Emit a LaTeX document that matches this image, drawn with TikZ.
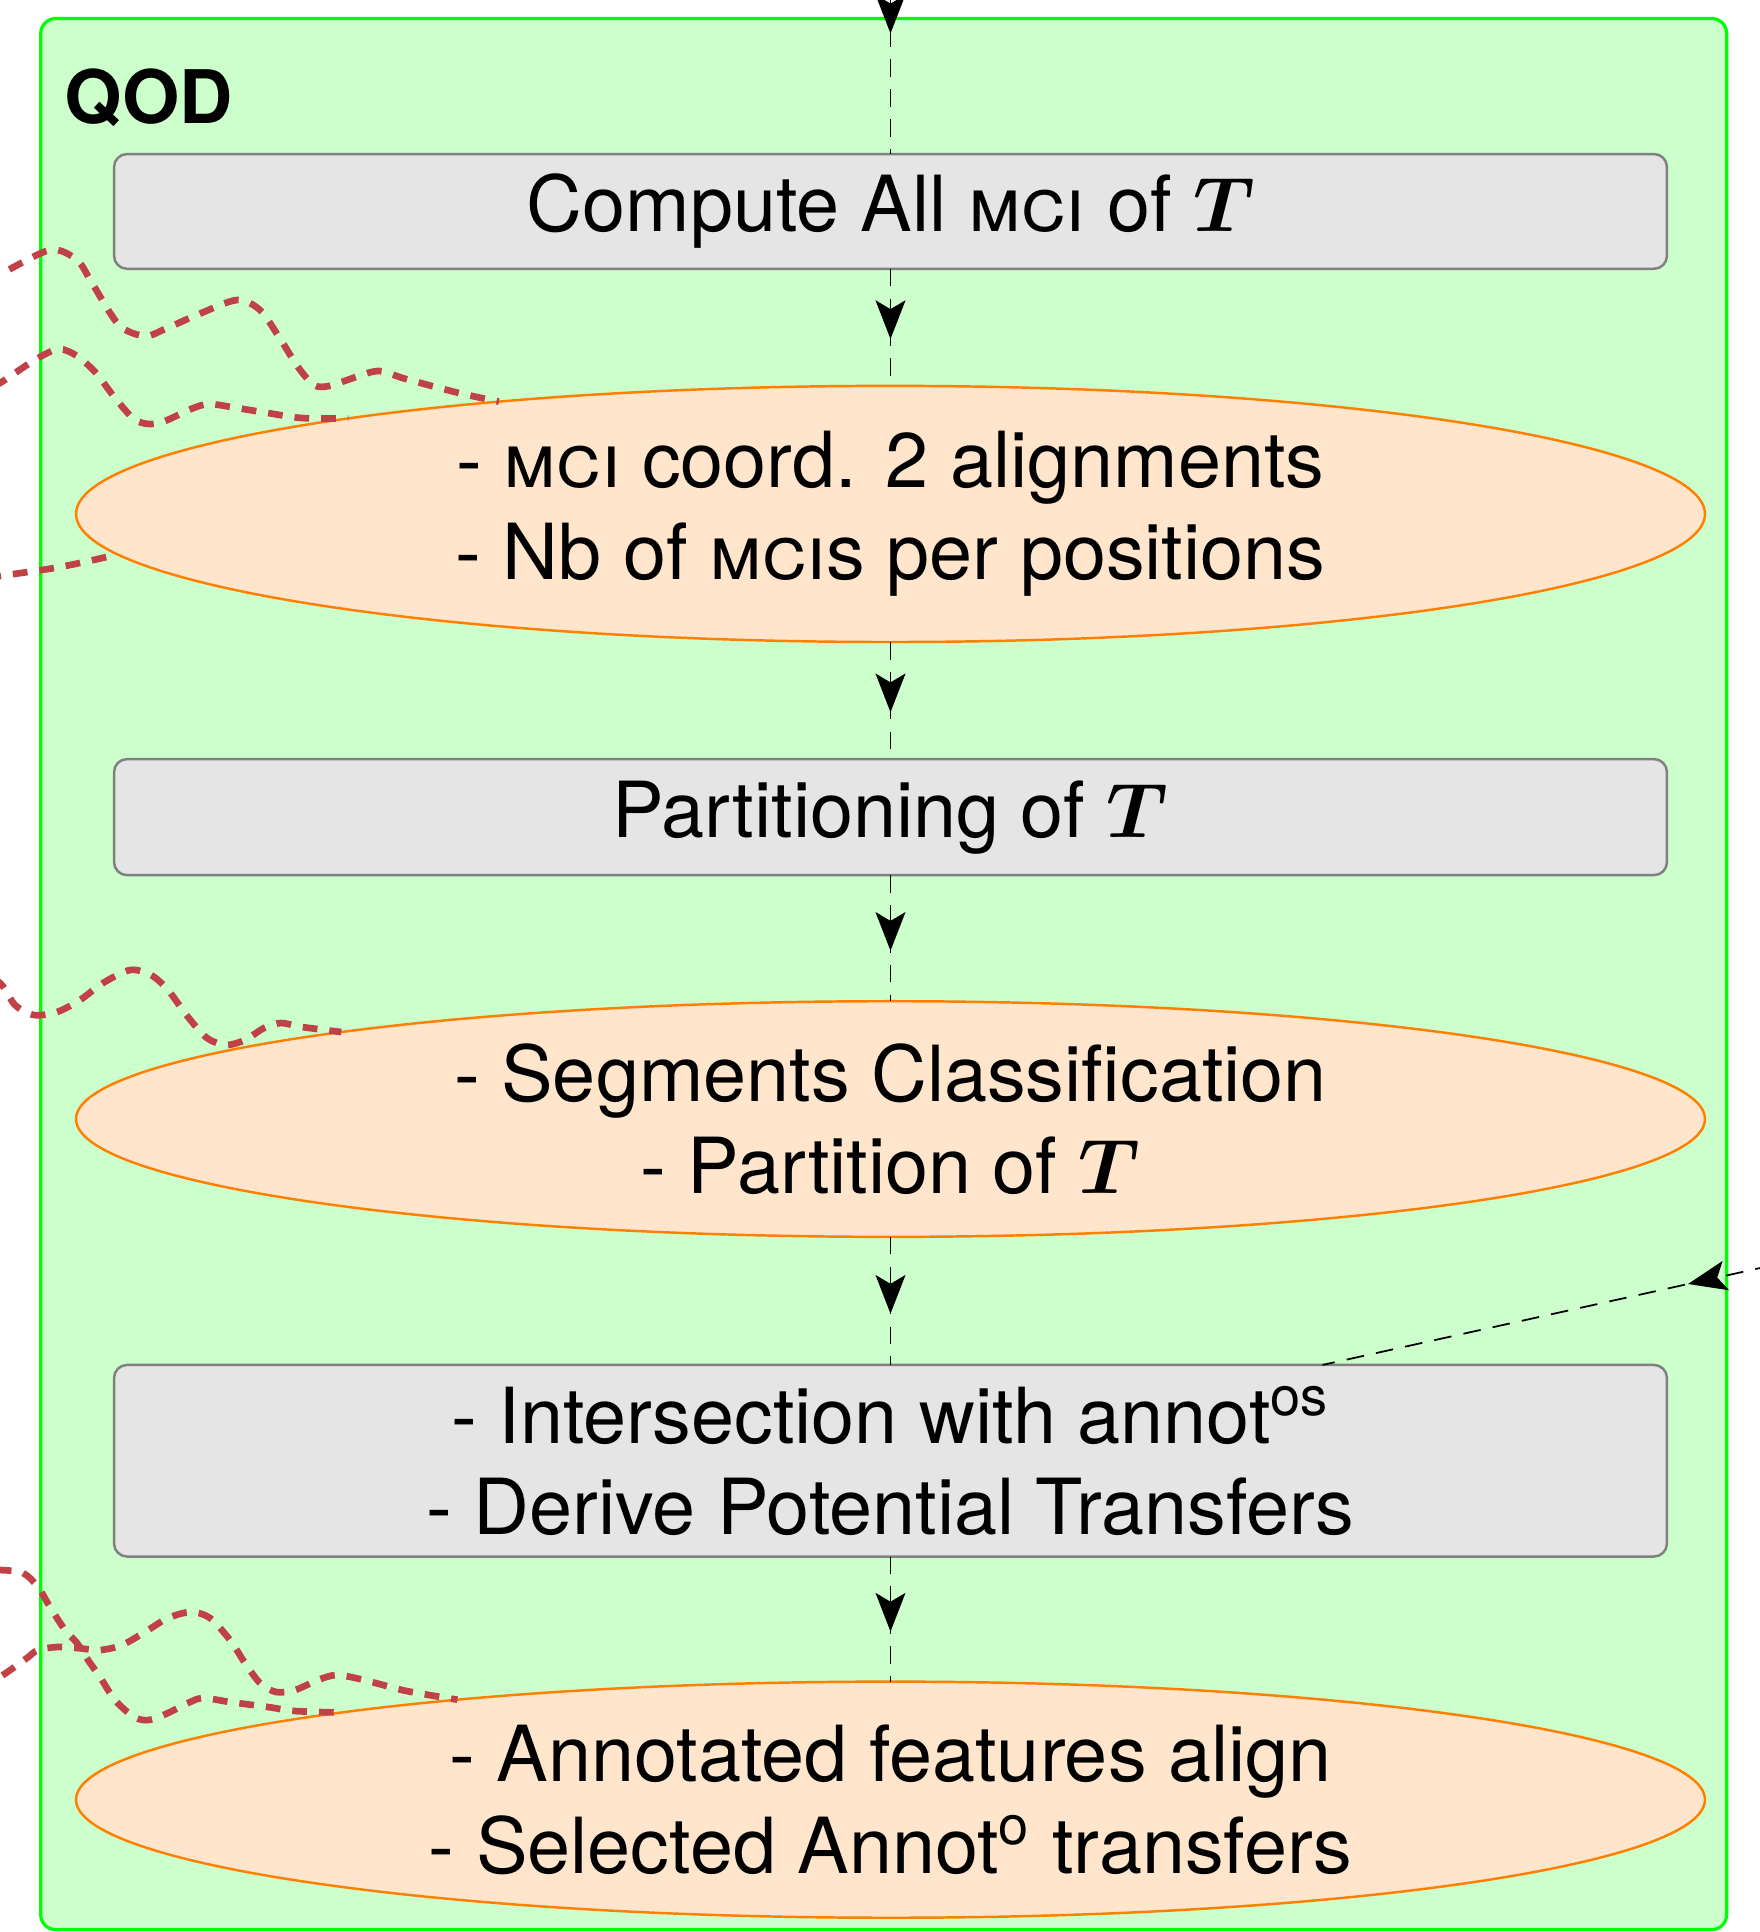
\documentclass[tikz,border=0pt]{standalone}
\usepackage{fix-cm}
\usepackage{amsmath,amssymb}
\usepackage{fontspec}
\setmainfont{TeX Gyre Heros}
\usetikzlibrary{arrows.meta,positioning,shapes.geometric,decorations.markings}

\definecolor{linkred}{RGB}{192,66,70}

\begin{document}
\begin{tikzpicture}[x=0.01cm,y=-0.01cm,font=\fontsize{22}{26}\selectfont,
  stepbox/.style={draw=gray,fill=gray!20,rounded corners=1.3mm,line width=0.7pt,minimum width=15.52cm,align=center,inner sep=0pt,outer sep=0pt},
  result/.style={ellipse,draw=orange,fill=orange!20,line width=0.7pt,minimum width=16.28cm,align=center,inner sep=0pt,outer sep=0pt},
  flow/.style={line width=0.5pt,dash pattern=on 5pt off 3.5pt,decoration={markings,mark=at position #1 with {\arrow{Stealth[length=11pt,width=8.5pt,inset=2.5pt]}}},postaction={decorate}},
  flow/.default=0.6,
  wave/.style={linkred,line width=1.9pt,dash pattern=on 4.2pt off 3.4pt}]
\useasboundingbox (0,0) rectangle (1760,1932);
\clip (0,0) rectangle (1760,1932);
% QOD frame
\node[draw=green,fill=green!20,line width=0.9pt,rounded corners=1.5mm,anchor=north west,outer sep=0pt,inner sep=0pt,minimum width=16.85cm,minimum height=19.1cm] (qod) at (40.7,18.5) {};
\node[anchor=base west,inner sep=0pt,font=\fontsize{21}{25}\selectfont\bfseries] (qodname) at (64,123) {QOD};
% steps and results
\node[stepbox,minimum height=1.147cm] (box1) at (890.5,211.4) {Compute All \textsc{mci} of $\boldsymbol{T}$};
\node[result,minimum height=2.56cm,below=1.17cm of box1] (ell1) {- \textsc{mci} coord. 2 alignments\\- Nb of \textsc{mci}s per positions};
\node[stepbox,minimum height=1.16cm,below=1.17cm of ell1] (box2) {Partitioning of $\boldsymbol{T}$};
\node[result,minimum height=2.355cm,below=1.26cm of box2] (ell2) {- Segments Classification\\- Partition of $\boldsymbol{T}$};
\node[stepbox,minimum height=1.915cm,below=1.28cm of ell2] (box3) {- Intersection with annot\textsuperscript{os}\\- Derive Potential Transfers};
\node[result,minimum height=2.36cm,below=1.25cm of box3] (ell3) {- Annotated features align\\- Selected Annot\textsuperscript{o} transfers};
% flow
\coordinate (topin) at (890.5,-120);
\coordinate (rightin) at (1860,1245.9);
\draw[flow=0.56] (topin) -- (box1);
\foreach \s/\t in {box1/ell1,ell1/box2,box2/ell2,ell2/box3,box3/ell3}\draw[flow] (\s)--(\t);
\draw[flow=0.32] (rightin) -- (box3);
% links from the left
\coordinate (wa) at (-40,290);
\coordinate (wb) at (-30,400);
\coordinate (wc) at (-40,582);
\coordinate (wd) at (-30,1570);
\coordinate (we) at (-20,1690);
\coordinate (wf) at (-30,965);
\draw[wave] plot[smooth] coordinates {(wa) (0,274) (50,250) (77,260) (92,283) (119,325) (145,336) (165,329) (199,314) (237,300) (260,310) (279,337) (298,367) (314,385) (329,386) (356,377) (379,371) (406,379) (459,393) (ell1.164.3)};
\draw[wave] plot[smooth] coordinates {(wb) (0,383) (15,373) (38,358) (59,349) (77,356) (96,373) (115,398) (134,419) (149,424) (165,421) (191,409) (209,404) (237,408) (268,413) (302,418) (ell1.170.8)};
\draw[wave] plot[smooth] coordinates {(wc) (0,576) (60,567) (ell1.183.5)};
\draw[wave] plot[smooth] coordinates {(wf) (0,983) (15,1005) (34,1015) (57,1012) (80,1000) (103,983) (130,970) (151,975) (168,990) (188,1017) (207,1038) (226,1045) (245,1040) (264,1028) (281,1023) (302,1027) (ell2.171.1)};
\draw[wave] plot[smooth] coordinates {(wd) (0,1570) (23,1573) (38,1587) (50,1607) (65,1630) (77,1643) (88,1660) (100,1677) (115,1700) (134,1717) (149,1720) (168,1713) (188,1703) (203,1698) (230,1702) (268,1707) (295,1711) (ell3.171.45)};
\draw[wave] plot[smooth] coordinates {(we) (6,1673) (27,1658) (38,1650) (57,1647) (77,1648) (100,1650) (122,1645) (145,1632) (168,1618) (191,1612) (210,1618) (230,1640) (245,1663) (260,1683) (276,1692) (295,1690) (318,1680) (337,1675) (364,1680) (402,1690) (429,1695) (ell3.167.06)};
\end{tikzpicture}
\end{document}
